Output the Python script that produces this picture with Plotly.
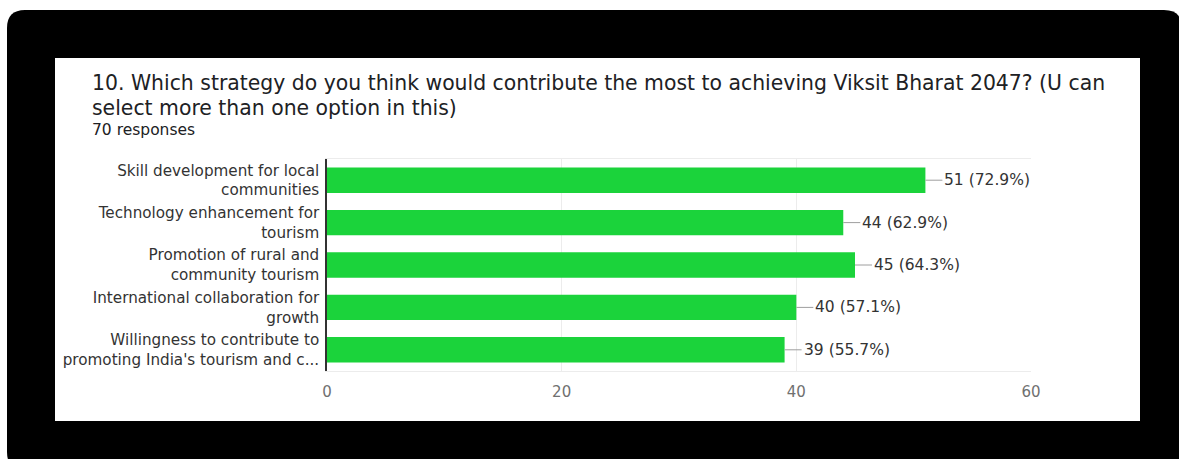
import plotly.graph_objects as go

categories = [
    "Skill development for local<br>communities",
    "Technology enhancement for<br>tourism",
    "Promotion of rural and<br>community tourism",
    "International collaboration for<br>growth",
    "Willingness to contribute to<br>promoting India's tourism and c...",
]
counts = [51, 44, 45, 40, 39]
percents = ["72.9%", "62.9%", "64.3%", "57.1%", "55.7%"]
x_ticks = [0, 20, 40, 60]

title_line1 = "10. Which strategy do you think would contribute the most to achieving Viksit Bharat 2047? (U can"
title_line2 = "select more than one option in this)"
subtitle = "70 responses"

W, H = 1179, 459
L, R, T, B = 327, 1031, 159, 371
PW, PH = R - L, B - T
FONT = "DejaVu Sans"


def px(x):
    return (x - L) / PW


def py(y):
    return (B - y) / PH


fig = go.Figure()
fig.add_trace(go.Bar(
    x=counts, y=categories, orientation="h",
    marker=dict(color="#1bd33b", line=dict(width=0)),
    hoverinfo="skip",
))


def rounded_rect(x0, y0, x1, y1, r):
    return (f"M {px(x0 + r)} {py(y0)} L {px(x1 - r)} {py(y0)} "
            f"Q {px(x1)} {py(y0)} {px(x1)} {py(y0 + r)} "
            f"L {px(x1)} {py(y1 - r)} Q {px(x1)} {py(y1)} {px(x1 - r)} {py(y1)} "
            f"L {px(x0 + r)} {py(y1)} Q {px(x0)} {py(y1)} {px(x0)} {py(y1 - r)} "
            f"L {px(x0)} {py(y0 + r)} Q {px(x0)} {py(y0)} {px(x0 + r)} {py(y0)} Z")


shapes = [
    dict(type="path", xref="paper", yref="paper", path=rounded_rect(7, 10, 1182, 470, 18),
         fillcolor="black", line=dict(width=0), layer="below"),
    dict(type="rect", xref="paper", yref="paper", x0=px(55), x1=px(1140), y0=py(58), y1=py(421),
         fillcolor="white", line=dict(width=0), layer="below"),
]

annotations = [
    dict(text=title_line1, xref="paper", yref="paper", x=px(90), y=py(83), xanchor="left", yanchor="middle",
         showarrow=False, font=dict(family=FONT, size=20.4, color="#202124")),
    dict(text=title_line2, xref="paper", yref="paper", x=px(90), y=py(108), xanchor="left", yanchor="middle",
         showarrow=False, font=dict(family=FONT, size=20.4, color="#202124")),
    dict(text=subtitle, xref="paper", yref="paper", x=px(90), y=py(130), xanchor="left", yanchor="middle",
         showarrow=False, font=dict(family=FONT, size=15.5, color="#202124")),
]
for c, n, p in zip(categories, counts, percents):
    annotations.append(dict(
        x=n, y=c, xref="x", yref="y", text=f"{n} ({p})",
        showarrow=True, arrowhead=0, arrowwidth=1, arrowcolor="#9e9e9e",
        ax=17, ay=0, xanchor="left", yanchor="middle",
        font=dict(family=FONT, size=15.5, color="#333333"),
    ))

fig.update_layout(
    width=W, height=H,
    margin=dict(l=L, r=W - R, t=T, b=H - B, pad=0),
    paper_bgcolor="white", plot_bgcolor="white",
    bargap=0.4, showlegend=False,
    shapes=shapes, annotations=annotations,
    xaxis=dict(range=[0, 60], tickvals=x_ticks, showgrid=True, gridcolor="#ececec", gridwidth=1,
               zeroline=False, showline=True, mirror=True, linecolor="#ececec", linewidth=1,
               ticks="", tickfont=dict(family=FONT, size=15, color="#707070"),
               ticklabelstandoff=7),
    yaxis=dict(autorange="reversed", showgrid=False, zeroline=False, showline=True,
               linecolor="#333333", linewidth=1.5, ticks="",
               tickfont=dict(family=FONT, size=15.2, color="#333333"),
               ticklabelstandoff=3),
)

fig.write_html("out.html")
